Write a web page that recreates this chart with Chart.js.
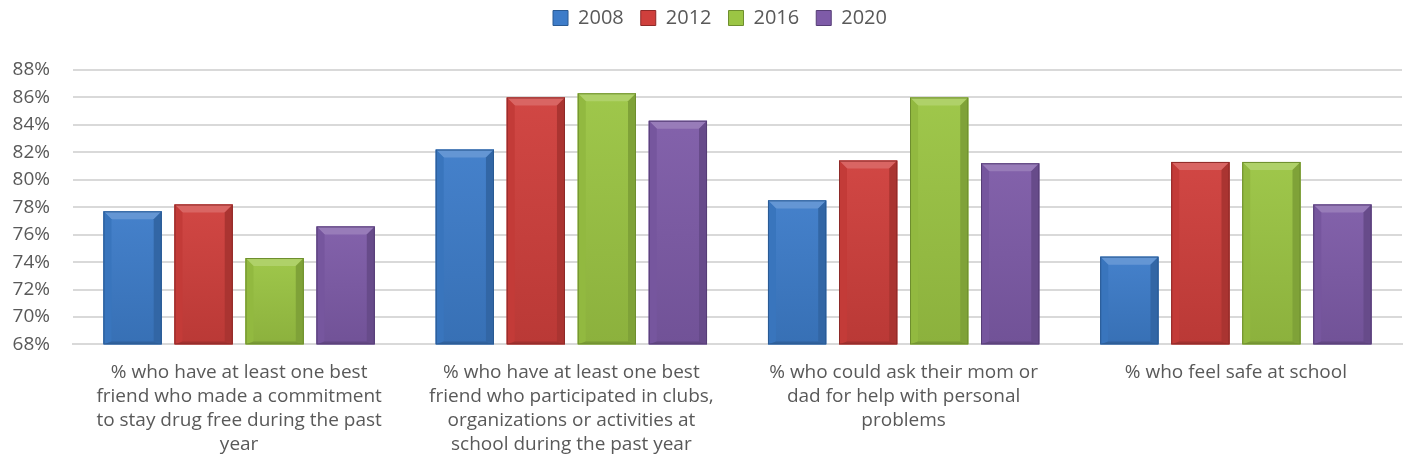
<!DOCTYPE html>
<html>
<head>
<meta charset="utf-8">
<script src="https://cdn.jsdelivr.net/npm/chart.js@4/dist/chart.umd.min.js"></script>
<style>
html,body{margin:0;padding:0;background:#fff;}
#wrap{width:1410px;height:476px;}
</style>
</head>
<body>
<div id="wrap"><canvas id="c" width="1410" height="476"></canvas></div>
<script>
const categories = [
  ["% who have at least one best", "friend who made a commitment", "to stay drug free during the past", "year"],
  ["% who have at least one best", "friend who participated in clubs,", "organizations or activities at", "school during the past year"],
  ["% who could ask their mom or", "dad for help with personal", "problems"],
  ["% who feel safe at school"]
];
const years = ["2008", "2012", "2016", "2020"];
const values2008 = [77.7, 82.2, 78.5, 74.4];
const values2012 = [78.2, 86.0, 81.4, 81.3];
const values2016 = [74.3, 86.3, 86.0, 81.3];
const values2020 = [76.6, 84.3, 81.2, 78.2];
const yTicks = [68, 70, 72, 74, 76, 78, 80, 82, 84, 86, 88];
const colors = ["#3D7CC9", "#CF3F3C", "#9BC544", "#7E5BA8"];
const borders = ["#2A5A93", "#8E2A28", "#6E8E2E", "#563E76"];

function shade(hex, amt) {
  const n = parseInt(hex.slice(1), 16);
  let r = (n >> 16) & 255, g = (n >> 8) & 255, b = n & 255;
  const f = v => Math.max(0, Math.min(255, Math.round(amt >= 0 ? v + (255 - v) * amt : v * (1 + amt))));
  return `rgb(${f(r)},${f(g)},${f(b)})`;
}

const legendSpace = {
  id: 'legendSpace',
  beforeInit(chart) {
    const orig = chart.legend.fit;
    chart.legend.fit = function () { orig.bind(chart.legend)(); this.height += 32; };
  },
  afterLayout(chart) {
    chart.legend.left += 14;
    chart.legend.right += 14;
  }
};

const bevel = {
  id: 'bevel',
  afterDatasetsDraw(chart) {
    const ctx = chart.ctx;
    const area = chart.chartArea;
    ctx.save();
    ctx.beginPath();
    ctx.rect(area.left, area.top - 2, area.right - area.left, area.bottom - area.top + 2);
    ctx.clip();
    chart.data.datasets.forEach((ds, di) => {
      const meta = chart.getDatasetMeta(di);
      const base = colors[di];
      meta.data.forEach(bar => {
        const w = bar.width, x0 = bar.x - w / 2, x1 = bar.x + w / 2, y0 = bar.y;
        const y1 = Math.min(bar.base, area.bottom);
        const b = 8;
        const g = ctx.createLinearGradient(0, y0, 0, y1);
        g.addColorStop(0, shade(base, 0.04));
        g.addColorStop(1, shade(base, -0.1));
        ctx.fillStyle = g;
        ctx.fillRect(x0, y0, w, y1 - y0);
        ctx.beginPath();
        ctx.moveTo(x0, y0); ctx.lineTo(x1, y0); ctx.lineTo(x1 - b, y0 + b); ctx.lineTo(x0 + b, y0 + b); ctx.closePath();
        ctx.fillStyle = shade(base, 0.2); ctx.fill();
        ctx.beginPath();
        ctx.moveTo(x0, y0); ctx.lineTo(x0 + b, y0 + b); ctx.lineTo(x0 + b, y1 - 3); ctx.lineTo(x0, y1); ctx.closePath();
        ctx.fillStyle = shade(base, -0.06); ctx.fill();
        ctx.beginPath();
        ctx.moveTo(x1, y0); ctx.lineTo(x1 - b, y0 + b); ctx.lineTo(x1 - b, y1 - 3); ctx.lineTo(x1, y1); ctx.closePath();
        ctx.fillStyle = shade(base, -0.18); ctx.fill();
        ctx.beginPath();
        ctx.moveTo(x0, y1); ctx.lineTo(x0 + b, y1 - 3); ctx.lineTo(x1 - b, y1 - 3); ctx.lineTo(x1, y1); ctx.closePath();
        ctx.fillStyle = shade(base, -0.22); ctx.fill();
        ctx.strokeStyle = borders[di]; ctx.lineWidth = 1;
        ctx.strokeRect(x0 + 0.5, y0 + 0.5, w - 1, y1 - y0 - 1);
      });
    });
    ctx.restore();
  }
};

const data = {
  labels: categories,
  datasets: [values2008, values2012, values2016, values2020].map((v, i) => ({
    label: years[i],
    data: v,
    backgroundColor: colors[i],
    borderWidth: 0,
    categoryPercentage: 0.855,
    barPercentage: 0.82
  }))
};

new Chart(document.getElementById('c'), {
  type: 'bar',
  data,
  plugins: [legendSpace, bevel],
  options: {
    responsive: false,
    animation: false,
    layout: { padding: { left: 10, right: 8, top: -9, bottom: 11 } },
    plugins: {
      legend: {
        position: 'top',
        labels: {
          boxWidth: 15, boxHeight: 15, padding: 17,
          color: '#595959',
          font: { family: 'Open Sans', size: 20 },
          generateLabels(chart) {
            return chart.data.datasets.map((ds, i) => ({
              text: ds.label, fillStyle: colors[i], strokeStyle: borders[i], lineWidth: 1, datasetIndex: i, fontColor: '#595959'
            }));
          }
        }
      },
      tooltip: { enabled: false }
    },
    scales: {
      x: {
        grid: { display: false },
        border: { display: true, color: '#d9d9d9', width: 2 },
        ticks: { color: '#595959', font: { family: 'Open Sans', size: 19, lineHeight: 1.27 }, maxRotation: 0, autoSkip: false, padding: 8 }
      },
      y: {
        min: yTicks[0], max: yTicks[yTicks.length - 1],
        afterBuildTicks(axis) { axis.ticks = yTicks.map(v => ({ value: v })); },
        afterFit(axis) { axis.width = 63; },
        ticks: { color: '#595959', font: { family: 'Open Sans', size: 19 }, callback: v => v + '%', padding: 23 },
        grid: { color: '#d9d9d9', lineWidth: 2, drawTicks: false },
        border: { display: false }
      }
    }
  }
});
</script>
</body>
</html>
